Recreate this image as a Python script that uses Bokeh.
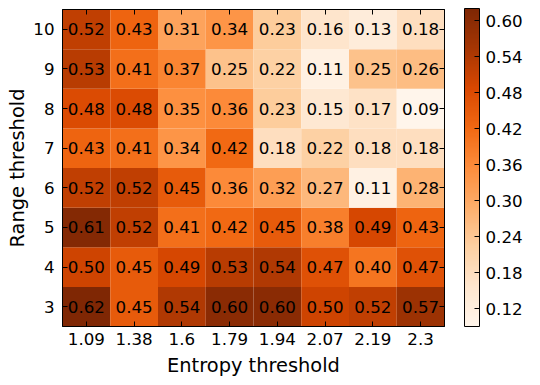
import numpy as np
from bokeh.plotting import figure
from bokeh.models import (ColumnDataSource, LinearColorMapper, ColorBar, FixedTicker,
                          CategoricalAxis, PrintfTickFormatter)
from bokeh.core.properties import value
from bokeh.palettes import Oranges9
from bokeh.embed import file_html
from bokeh.resources import INLINE

entropy_thresholds = ["1.09", "1.38", "1.6", "1.79", "1.94", "2.07", "2.19", "2.3"]
range_thresholds = ["3", "4", "5", "6", "7", "8", "9", "10"]

# rows by range threshold (3 .. 10), columns by entropy threshold
row_3 = [0.62, 0.45, 0.54, 0.60, 0.60, 0.50, 0.52, 0.57]
row_4 = [0.50, 0.45, 0.49, 0.53, 0.54, 0.47, 0.40, 0.47]
row_5 = [0.61, 0.52, 0.41, 0.42, 0.45, 0.38, 0.49, 0.43]
row_6 = [0.52, 0.52, 0.45, 0.36, 0.32, 0.27, 0.11, 0.28]
row_7 = [0.43, 0.41, 0.34, 0.42, 0.18, 0.22, 0.18, 0.18]
row_8 = [0.48, 0.48, 0.35, 0.36, 0.23, 0.15, 0.17, 0.09]
row_9 = [0.53, 0.41, 0.37, 0.25, 0.22, 0.11, 0.25, 0.26]
row_10 = [0.52, 0.43, 0.31, 0.34, 0.23, 0.16, 0.13, 0.18]
rows = [row_3, row_4, row_5, row_6, row_7, row_8, row_9, row_10]

colorbar_ticks = [0.12, 0.18, 0.24, 0.30, 0.36, 0.42, 0.48, 0.54, 0.60]

# matplotlib-like "Oranges" colormap, interpolated from the ColorBrewer 9-class palette
base = list(reversed(Oranges9))
rgb = np.array([[int(c[i:i + 2], 16) for i in (1, 3, 5)] for c in base], dtype=float)
pos = np.linspace(0, 1, len(base))
t = np.linspace(0, 1, 256)
interp = np.stack([np.interp(t, pos, rgb[:, k]) for k in range(3)], axis=1)
palette = ["#%02x%02x%02x" % tuple(int(round(v)) for v in c) for c in interp]

xs, ys, vals, labels = [], [], [], []
for r, row in zip(range_thresholds, rows):
    for e, v in zip(entropy_thresholds, row):
        xs.append(e)
        ys.append(r)
        vals.append(v)
        labels.append("%.2f" % v)
all_vals = [v for row in rows for v in row]
src = ColumnDataSource(dict(x=xs, y=ys, v=vals, label=labels))

mapper = LinearColorMapper(palette=palette, low=min(all_vals), high=max(all_vals))

FONT = "DejaVu Sans"
TICK_SIZE = "16.7px"
LABEL_SIZE = "19.4px"

W, H = 524, 379
LEFT, RIGHT, TOP, BOTTOM = 62, 80, 9, 52
frame_w = W - LEFT - RIGHT
frame_h = H - TOP - BOTTOM

p = figure(width=W, height=H, x_range=entropy_thresholds, y_range=range_thresholds,
           output_backend="svg", toolbar_location=None,
           min_border_left=LEFT, min_border_right=RIGHT, min_border_top=TOP,
           min_border_bottom=BOTTOM)
p.rect(x="x", y="y", width=1, height=1, source=src,
       fill_color={"field": "v", "transform": mapper}, line_color=None)
p.text(x="x", y="y", text="label", source=src, text_align="center", text_baseline="middle",
       text_font=value(FONT), text_font_size=TICK_SIZE, text_color="black")

p.grid.visible = False
p.outline_line_color = "black"
p.outline_line_width = 1
p.background_fill_color = "white"

for ax in (p.xaxis[0], p.yaxis[0]):
    ax.major_tick_in = 5
    ax.major_tick_out = 0
    ax.major_tick_line_color = "black"
    ax.axis_line_color = "black"
    ax.major_label_text_font = FONT
    ax.major_label_text_font_size = TICK_SIZE
    ax.major_label_text_color = "black"
    ax.axis_label_text_font = FONT
    ax.axis_label_text_font_size = LABEL_SIZE
    ax.axis_label_text_font_style = "normal"
    ax.axis_label_text_color = "black"

p.xaxis[0].major_label_standoff = 6
p.xaxis[0].axis_label_standoff = 6
p.yaxis[0].major_label_standoff = 8
p.yaxis[0].axis_label_standoff = 1

p.xaxis[0].axis_label = "Entropy threshold"
p.yaxis[0].axis_label = "Range threshold"

for side in ("above", "right"):
    a = CategoricalAxis()
    a.major_tick_in = 5
    a.major_tick_out = 0
    a.major_tick_line_color = "black"
    a.axis_line_color = "black"
    a.major_label_text_font_size = "0px"
    a.major_label_standoff = 0
    a.major_label_text_alpha = 0
    p.add_layout(a, side)

cb = ColorBar(color_mapper=mapper, ticker=FixedTicker(ticks=colorbar_ticks),
              formatter=PrintfTickFormatter(format="%.2f"),
              location=(frame_w + 20, 0), width=15, height=frame_h,
              padding=0, margin=0, label_standoff=6,
              major_label_text_font=FONT, major_label_text_font_size=TICK_SIZE,
              major_label_text_color="black",
              major_tick_in=5, major_tick_out=0, major_tick_line_color="black",
              bar_line_color="black", bar_line_width=1,
              border_line_color=None, background_fill_color=None)
p.add_layout(cb, "center")

open("out.html", "w").write(file_html(p, INLINE))
